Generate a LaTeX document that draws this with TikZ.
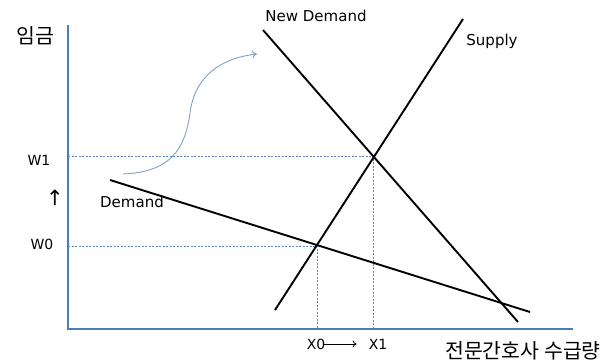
\documentclass[tikz,border=0pt]{standalone}
\usepackage{fontspec}
\setmainfont{DejaVu Sans}
\newfontfamily\kor{Noto Sans CJK KR}
\usetikzlibrary{arrows.meta,positioning,calc}
\definecolor{AxMain}{HTML}{4A7EBB}
\definecolor{GuideBlue}{HTML}{5B87C5}
\definecolor{ShiftBlue}{HTML}{7FA0C8}
\tikzset{
  every picture/.append style={font=\fontsize{15}{18}\selectfont},
  axisln/.style={line width=2.1pt, draw=AxMain},
  curveln/.style={line width=1.9pt, draw=black},
  guide/.style={line width=0.8pt, draw=GuideBlue, dash pattern=on 2pt off 1.5pt},
  shiftarrow/.style={-{To[length=5pt,width=8pt]}, line width=0.9pt, draw=ShiftBlue},
  lbl/.style={inner sep=1pt},
  ticklbl/.style={lbl, font=\fontsize{14}{16}\selectfont},
  korlbl/.style={inner sep=1pt, font=\kor\fontsize{20.5}{24}\selectfont},
}
\begin{document}
\begin{tikzpicture}[x=1pt,y=-1pt]
\useasboundingbox (0,0) rectangle (616,363);

% ---------------- axes ----------------------------------------------------------
\coordinate (O) at (68,329);
\coordinate (ytop) at (68,25);
\coordinate (xend) at (573,329);
\draw[axisln] (ytop) -- (O) -- (xend);

% ---------------- equilibria ----------------------------------------------------
\coordinate (E0) at (317,246);
\coordinate (E1) at (373,156);
\draw[guide] (E1 -| O) -- (E1) -- (E1 |- O);
\draw[guide] (E0 -| O) -- (E0) -- (E0 |- O);

% ---------------- curves --------------------------------------------------------
\coordinate (d1) at (110,180);  \coordinate (d2) at (530,312);
\coordinate (nd1) at (263,30);  \coordinate (nd2) at (518,322);
\coordinate (s1) at (275,310);  \coordinate (s2) at (463,19);
\draw[curveln] (d1) -- (d2);
\draw[curveln] (nd1) -- (nd2);
\draw[curveln] (s1) -- (s2);

% ---------------- shift arrow ---------------------------------------------------
\coordinate (sh0) at (123,174);
\coordinate (shm) at (190,113);
\coordinate (sh1) at (257,54);
\draw[shiftarrow] (sh0) .. controls (170,172) and (185,150) .. (shm)
  .. controls (195,75) and (222,58) .. (sh1);

% ---------------- labels --------------------------------------------------------
\node[korlbl] (wage) at (35,36) {임금};
\node[lbl] (newdem) at (316,16) {New Demand};
\node[lbl] (sup) at (492,41) {Supply};
\node[lbl] (dem) at (132,202) {Demand};
\node[ticklbl] (w1) at (39,160) {W1};
\node[ticklbl] (w0) at (42,244) {W0};
\node[lbl, font=\fontsize{21}{22}\selectfont] (up) at (55,198) {↑};
\node[ticklbl] (x0) at (316,344) {X0};
\node[ticklbl] (x1) at (378,344) {X1};
\draw[-{To[length=4pt,width=7pt]}, line width=0.8pt, shorten <=-2pt, shorten >=11pt] (x0.east) -- (x1.west);
\node[korlbl] (qty) at (523,351) {전문간호사 수급량};

\end{tikzpicture}
\end{document}
